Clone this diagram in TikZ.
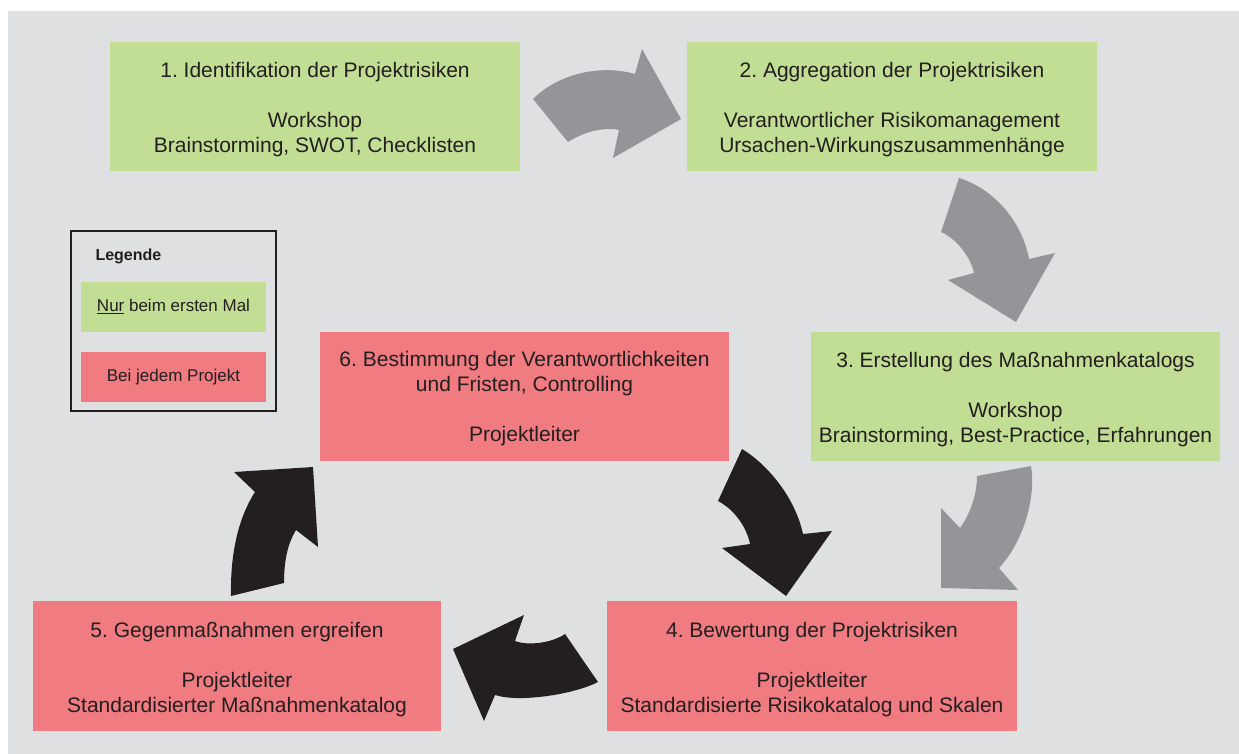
\documentclass[tikz,border=0pt]{standalone}
\usepackage{fontspec}
\setmainfont{Liberation Sans}
\frenchspacing
\definecolor{panel}{HTML}{DFE0E2}
\definecolor{once}{HTML}{C2DD94}
\definecolor{every}{HTML}{F07B80}
\definecolor{ink}{HTML}{231F20}
\definecolor{arrowgrey}{HTML}{939598}
\begin{document}
\begin{tikzpicture}[x=1pt,y=-1pt,
  stagebox/.style={rectangle, inner sep=0pt, minimum width=410pt, minimum height=129pt},
  stagetext/.style={inner sep=0pt, align=center, text=ink, font=\fontsize{21}{25}\selectfont},
  oncebox/.style={stagebox, fill=once},
  everybox/.style={stagebox, fill=every},
  keybox/.style={rectangle, inner sep=0pt, minimum width=185pt, minimum height=50pt,
    text=ink, font=\fontsize{17}{20}\selectfont},
  greyflow/.style={fill=arrowgrey},
  blackflow/.style={fill=ink}]

% page and panel
\fill[white] (0,0) rectangle (1239,754);
\fill[panel] (8,11) rectangle (1239,754);

% process stages
\node[oncebox] (s1) at (315,106.5) {};
\node[oncebox] (s2) at (892,106.5) {};
\node[oncebox, minimum width=409pt] (s3) at (1015.5,396.5) {};
\node[everybox, minimum height=130pt] (s4) at (812,666) {};
\node[everybox, minimum width=408pt, minimum height=130pt] (s5) at (237,666) {};
\node[everybox, minimum width=409pt] (s6) at (524.5,396.5) {};

% stage texts
\node[stagetext] (t1) at ([yshift=-3.5pt]s1.center)
  {1. Identifikation der Projektrisiken\\[25pt]Workshop\\Brainstorming, SWOT, Checklisten};
\node[stagetext] (t2) at ([yshift=-3.5pt]s2.center)
  {2. Aggregation der Projektrisiken\\[25pt]Verantwortlicher Risikomanagement\\Ursachen-Wirkungszusammenh\"ange};
\node[stagetext] (t3) at ([yshift=-3.5pt]s3.center)
  {3. Erstellung des Ma\ss nahmenkatalogs\\[25pt]Workshop\\Brainstorming, Best-Practice, Erfahrungen};
\node[stagetext] (t4) at ([yshift=-4pt]s4.center)
  {4. Bewertung der Projektrisiken\\[25pt]Projektleiter\\Standardisierte Risikokatalog und Skalen};
\node[stagetext] (t5) at ([yshift=-4pt]s5.center)
  {5. Gegenma\ss nahmen ergreifen\\[25pt]Projektleiter\\Standardisierter Ma\ss nahmenkatalog};
\node[stagetext] (t6) at ([yshift=-2pt]s6.center)
  {6. Bestimmung der Verantwortlichkeiten\\und Fristen, Controlling\\[25pt]Projektleiter};

% curved flow arrows, one-time part (grey)
\fill[greyflow] (533,99) .. controls (558,74) and (600,64) .. (635,74)
  -- (642,49) -- (681,119) -- (613,158) -- (619,130)
  .. controls (605,127) and (585,131) .. (568,142) -- cycle;
\fill[greyflow] (959,178) .. controls (992,188) and (1022,220) .. (1029,259)
  -- (1055,253) -- (1016,322) -- (948,280) -- (974,273)
  .. controls (970,255) and (955,238) .. (941,232) -- cycle;
\fill[greyflow] (977,476) -- (1031,466) .. controls (1036,495) and (1025,540) .. (999,568)
  -- (1018,590) -- (941,588) -- (941,508) -- (960,528)
  .. controls (970,514) and (977,495) .. (977,476) -- cycle;

% curved flow arrows, recurring part (black)
\fill[blackflow] (742,449) .. controls (767,464) and (795,497) .. (803,534)
  -- (832,531) -- (786,596) -- (722,548) -- (750,544)
  .. controls (747,528) and (735,510) .. (718,501) -- cycle;
\fill[blackflow] (565,634) -- (598,682) .. controls (575,694) and (520,703) .. (495,695)
  -- (484,721) -- (453,649) -- (524,615) -- (515,641)
  .. controls (528,646) and (552,643) .. (565,634) -- cycle;
\fill[blackflow] (231,596) -- (284,583) .. controls (284,560) and (288,543) .. (296,530)
  -- (318,547) -- (313,467) -- (234,472) -- (255,492)
  .. controls (242,512) and (230,545) .. (231,596) -- cycle;

% legend
\node[draw=ink, line width=1.3pt, rectangle, inner sep=0pt,
  minimum width=205pt, minimum height=180pt] (legend) at (173.5,321) {};
\node[anchor=west, text=ink, font=\bfseries\fontsize{16}{19}\selectfont] (legtitle) at (92,256) {Legende};
\node[keybox, fill=once] (keyonce) at (173.5,306.5) {\underline{Nur} beim ersten Mal};
\node[keybox, fill=every] (keyevery) at (173.5,377) {Bei jedem Projekt};
\end{tikzpicture}
\end{document}
